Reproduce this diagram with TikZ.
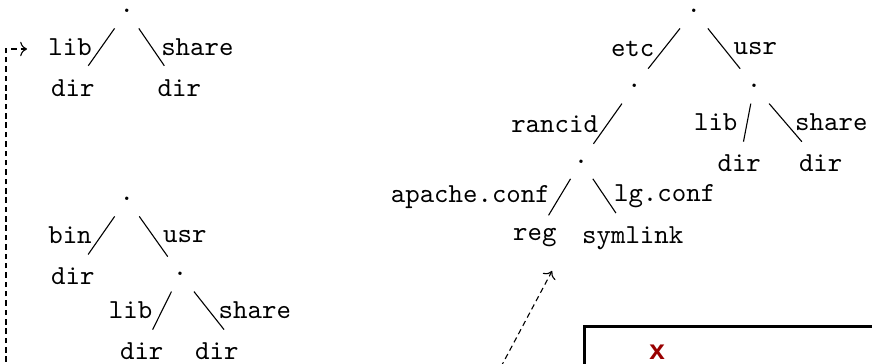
\documentclass[tikz,border=0pt]{standalone}
\usepackage{fontspec}
\usepackage{xcolor}
\usepackage{tikz}
\usetikzlibrary{arrows.meta, positioning, calc}
\newfontfamily\codefont{Liberation Mono}
\tikzset{
    fsnode/.style={font=\ttfamily, inner sep=4.7pt},
    dotnode/.style={fsnode, minimum height=12.3pt},
    edgelbl/.style={font=\ttfamily},
    linkarrow/.style={->, dash pattern=on 2pt off 1.4pt},
    codebox/.style={rectangle, draw, line width=1pt, anchor=north west, minimum width=4cm, minimum height=2cm},
    codetext/.style={font=\codefont\bfseries, text=red!60!black},
}

\begin{document}
\begin{tikzpicture}

\useasboundingbox (0,0) rectangle (11.135,-4.648);
\clip (0,0) rectangle (11.135,-4.648);

% === TREE 1 ===
\node[dotnode] (ta) at (1.62,-0.14) {.};
\node[fsnode] (talib) at (0.93,-1.12) {dir};
\node[fsnode] (tashare) at (2.29,-1.12) {dir};
\draw (ta) -- node[left, edgelbl] {lib} (talib);
\draw (ta) -- node[right, edgelbl] {share} (tashare);

% === TREE 2 ===
\node[dotnode] (tb) at (1.62,-2.54) {.};
\node[fsnode] (tbbin) at (0.93,-3.53) {dir};
\node[dotnode] (tbusr) at (2.30,-3.50) {.};
\node[fsnode] (tblib) at (1.81,-4.49) {dir};
\node[fsnode] (tbshare) at (2.77,-4.49) {dir};
\draw (tb) -- node[left, edgelbl] {bin} (tbbin);
\draw (tb) -- node[right, edgelbl] {usr} (tbusr);
\draw (tbusr) -- node[left, edgelbl] {lib} (tblib);
\draw (tbusr) -- node[right, edgelbl] {share} ([xshift=2.6pt]tbshare.north);

% === TREE 3 ===
\node[dotnode] (tc) at (8.86,-0.14) {.};
\node[dotnode] (tcetc) at (8.10,-1.10) {.};
\node[dotnode] (tcusr) at (9.63,-1.10) {.};
\node[dotnode] (tcrancid) at (7.42,-2.06) {.};
\node[fsnode] (tclib) at (9.44,-2.09) {dir};
\node[fsnode] (tcshare) at (10.48,-2.09) {dir};
\node[fsnode] (tcreg) at (6.83,-3.04) {reg};
\node[fsnode] (tclg) at (8.08,-3.04) {symlink};
\draw (tc) -- node[left, edgelbl] {etc} (tcetc);
\draw (tc) -- node[right, edgelbl] {usr} (tcusr);
\draw (tcetc) -- node[left, edgelbl] {rancid} (tcrancid);
\draw (tcusr) -- node[left, edgelbl] {lib} (tclib);
\draw (tcusr) -- node[right, edgelbl] {share} (tcshare);
\draw (tcrancid) -- node[left, edgelbl] {apache.conf} (tcreg);
\draw (tcrancid) -- node[right, edgelbl] {lg.conf} (tclg);

% === LINKS ===
\coordinate (srca) at (0.077,-5.1);
\coordinate (ina) at (0.345,-0.626);
\draw[linkarrow] (srca) |- (ina);

\coordinate (srcb) at (6.17,-5.11);
\coordinate (inb) at (7.05,-3.46);
\draw[linkarrow] (srcb) -- (inb);

% === CODE BOX ===
\node[codebox] (code) at (7.445,-4.15) {};
\node[codetext] (codex) at (8.39,-4.495) {x};

\end{tikzpicture}
\end{document}
